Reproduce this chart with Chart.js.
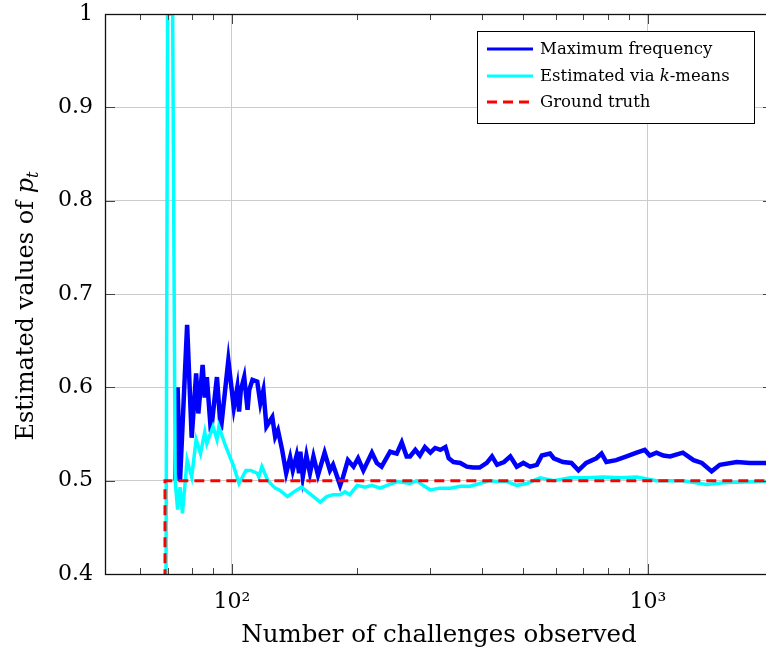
<!DOCTYPE html>
<html>
<head>
<meta charset="utf-8">
<script src="https://cdn.jsdelivr.net/npm/chart.js@4.4.1/dist/chart.umd.min.js"></script>
<style>
  html, body { margin: 0; padding: 0; background: #fff; overflow: hidden; }
  #wrap { width: 790px; height: 656px; }
</style>
</head>
<body>
<div id="wrap"><canvas id="chart"></canvas></div>
<script>
/* ---------- data ---------- */

// number of challenges observed -> estimate via maximum frequency
const maxFreqN = [73, 74, 75, 78, 80, 82, 83,
  85, 86, 87, 89, 92, 94, 98, 101, 103, 104,
  105, 107, 109, 110, 112, 115, 117, 119, 121, 125,
  127, 129, 132, 135, 138, 140, 143, 145, 146, 148,
  151, 154, 157, 161, 167, 172, 175, 182, 185, 190,
  196, 201, 207, 217, 223, 229, 240, 249, 256, 263,
  268, 276, 283, 291, 300, 308, 317, 326, 332, 341,
  354, 367, 380, 394, 410, 422, 434, 451, 467, 484,
  502, 521, 541, 556, 582, 594, 625, 655, 681, 711,
  752, 774, 795, 839, 889, 940, 983, 1011, 1049, 1089,
  1131, 1214, 1288, 1349, 1424, 1490, 1636, 1760, 1916, 2000];
const maxFreqP = [0.5, 0.6, 0.5, 0.667, 0.546, 0.615, 0.572,
  0.624, 0.589, 0.611, 0.552, 0.611, 0.554, 0.629, 0.578, 0.6, 0.574,
  0.597, 0.611, 0.576, 0.597, 0.608, 0.606, 0.583, 0.597, 0.558, 0.568,
  0.547, 0.554, 0.533, 0.508, 0.525, 0.511, 0.527, 0.508, 0.531, 0.504,
  0.527, 0.508, 0.526, 0.506, 0.53, 0.511, 0.517, 0.495, 0.504, 0.522,
  0.515, 0.524, 0.511, 0.53, 0.519, 0.515, 0.531, 0.529, 0.541, 0.526,
  0.526, 0.533, 0.527, 0.536, 0.53, 0.535, 0.533, 0.536, 0.524, 0.52,
  0.519, 0.515, 0.514, 0.514, 0.519, 0.526, 0.517, 0.52, 0.526, 0.515,
  0.519, 0.515, 0.517, 0.527, 0.529, 0.524, 0.52, 0.519, 0.511, 0.519,
  0.524, 0.529, 0.52, 0.522, 0.526, 0.53, 0.533, 0.527, 0.53, 0.527,
  0.526, 0.53, 0.522, 0.519, 0.51, 0.517, 0.52, 0.519, 0.519, 0.518];

// estimate via k-means
const kmeansN = [69, 70, 72, 73, 74, 75, 76, 78, 80, 82,
  84, 86, 87, 90, 92, 93, 96, 101, 104, 108,
  111, 115, 116, 118, 122, 127, 130, 136, 142, 147,
  153, 157, 163, 169, 175, 182, 187, 192, 200, 209,
  217, 227, 236, 250, 268, 278, 288, 300, 316, 335,
  354, 374, 394, 417, 433, 458, 484, 512, 551, 594,
  651, 711, 782, 858, 940, 1049, 1214, 1385, 1546, 1916,
  2000];
const kmeansP = [0, 1, 1, 0.5, 0.469, 0.493, 0.465, 0.522, 0.504, 0.544,
  0.529, 0.552, 0.54, 0.558, 0.544, 0.558, 0.54, 0.515, 0.497, 0.511,
  0.511, 0.508, 0.504, 0.515, 0.5, 0.492, 0.49, 0.483, 0.489, 0.493,
  0.487, 0.483, 0.477, 0.483, 0.485, 0.485, 0.488, 0.485, 0.495, 0.493,
  0.495, 0.492, 0.495, 0.499, 0.497, 0.5, 0.495, 0.49, 0.492, 0.492,
  0.494, 0.494, 0.497, 0.5, 0.499, 0.499, 0.495, 0.497, 0.503, 0.5,
  0.503, 0.503, 0.504, 0.503, 0.504, 0.5, 0.5, 0.496, 0.498, 0.499,
  0.499];

// ground truth
const truthN = [69, 69, 2000];
const truthP = [0, 0.5, 0.5];

// axes
const xMin = 49.5, xMax = 2000;
const xMajorTicks = [100, 1000];
const xMinorTicks = [60, 70, 80, 90, 200, 300, 400, 500, 600, 700, 800, 900];
const xTickLabels = { 100: '10²', 1000: '10³' };
const yMin = 0.4, yMax = 1, yStep = 0.1;

const seriesLabels = ['Maximum frequency', 'Estimated via k-means', 'Ground truth'];
const xTitle = 'Number of challenges observed';
const yTitle = 'Estimated values of ';

/* ---------- helpers ---------- */

const SERIF = "'DejaVu Serif', serif";
const toPoints = (xs, ys) => xs.map((v, i) => ({ x: v, y: ys[i] }));

// draws a label where a lone "k" is set in italics (as in k-means)
function drawMixed(ctx, text, x, y, size) {
  const parts = text.split(/(\bk\b)/);
  parts.forEach(p => {
    if (!p) return;
    ctx.font = (p === 'k' ? 'italic ' : '') + size + 'px ' + SERIF;
    ctx.fillText(p, x, y);
    x += ctx.measureText(p).width;
  });
}

/* ---------- plugins ---------- */

// box frame + inward tick marks like pgfplots
const frameTicks = {
  id: 'frameTicks',
  afterDatasetsDraw(chart) {
    const { ctx, chartArea: a, scales: { x, y } } = chart;
    ctx.save();
    ctx.strokeStyle = '#444';
    ctx.lineWidth = 1;
    ctx.beginPath();
    x.ticks.forEach(t => {
      const px = Math.round(x.getPixelForValue(t.value)) + 0.5;
      const len = t.major ? 10 : 6;
      ctx.moveTo(px, a.bottom); ctx.lineTo(px, a.bottom - len);
      ctx.moveTo(px, a.top);    ctx.lineTo(px, a.top + len);
    });
    y.ticks.forEach(t => {
      const py = Math.round(y.getPixelForValue(t.value)) + 0.5;
      ctx.moveTo(a.left, py);  ctx.lineTo(a.left + 10, py);
      ctx.moveTo(a.right, py); ctx.lineTo(a.right - 10, py);
    });
    ctx.stroke();
    ctx.strokeStyle = '#111';
    ctx.lineWidth = 1.3;
    ctx.strokeRect(Math.round(a.left) + 0.5, Math.round(a.top) + 0.5, Math.round(a.width), Math.round(a.height));
    ctx.restore();
  }
};

// legend box in the upper right
const boxLegend = {
  id: 'boxLegend',
  afterDraw(chart) {
    const { ctx } = chart;
    const bx = 477, by = 31, bw = 277, bh = 92;
    const rows = [49, 76, 102];
    ctx.save();
    ctx.fillStyle = '#fff';
    ctx.fillRect(bx, by, bw, bh);
    ctx.strokeStyle = '#000';
    ctx.lineWidth = 1;
    ctx.strokeRect(bx + 0.5, by + 0.5, bw, bh);
    chart.data.datasets.forEach((ds, i) => {
      const yy = rows[i];
      ctx.strokeStyle = ds.borderColor;
      ctx.lineWidth = 3;
      ctx.setLineDash(ds.borderDash || []);
      ctx.beginPath();
      ctx.moveTo(487, yy);
      ctx.lineTo(533, yy);
      ctx.stroke();
      ctx.setLineDash([]);
      ctx.fillStyle = '#000';
      ctx.textBaseline = 'middle';
      drawMixed(ctx, ds.label, 540, yy + 1, 16.5);
    });
    ctx.restore();
  }
};

// rotated y title with italic p and subscript t
const yAxisTitle = {
  id: 'yAxisTitle',
  afterDraw(chart) {
    const { ctx } = chart;
    ctx.save();
    ctx.translate(27, 306);
    ctx.rotate(-Math.PI / 2);
    ctx.fillStyle = '#000';
    ctx.textBaseline = 'middle';
    ctx.font = '24px ' + SERIF;
    const w1 = ctx.measureText(yTitle).width;
    ctx.font = 'italic 24px ' + SERIF;
    const w2 = ctx.measureText('p').width;
    ctx.font = 'italic 16px ' + SERIF;
    const w3 = ctx.measureText('t').width;
    let x0 = -(w1 + w2 + w3) / 2;
    ctx.font = '24px ' + SERIF;
    ctx.fillText(yTitle, x0, 0);
    x0 += w1;
    ctx.font = 'italic 24px ' + SERIF;
    ctx.fillText('p', x0, 0);
    x0 += w2;
    ctx.font = 'italic 16px ' + SERIF;
    ctx.fillText('t', x0, 7);
    ctx.restore();
  }
};

/* ---------- chart ---------- */

Chart.defaults.font.family = SERIF;
Chart.defaults.color = '#000';

new Chart(document.getElementById('chart'), {
  type: 'line',
  data: {
    datasets: [
      {
        label: seriesLabels[0],
        data: toPoints(maxFreqN, maxFreqP),
        borderColor: '#0000ff',
        borderWidth: 4.5,
        pointRadius: 0,
        tension: 0,
        order: 3,
      },
      {
        label: seriesLabels[1],
        data: toPoints(kmeansN, kmeansP),
        borderColor: '#00ffff',
        borderWidth: 3.5,
        pointRadius: 0,
        tension: 0,
        order: 2,
      },
      {
        label: seriesLabels[2],
        data: toPoints(truthN, truthP),
        borderColor: '#ff0000',
        borderWidth: 3,
        borderDash: [10, 6],
        pointRadius: 0,
        tension: 0,
        order: 1,
      },
    ],
  },
  options: {
    responsive: true,
    maintainAspectRatio: false,
    animation: false,
    layout: { padding: { left: 0, right: 17, top: 14, bottom: 0 } },
    plugins: {
      legend: { display: false },
      tooltip: { enabled: false },
    },
    scales: {
      x: {
        type: 'logarithmic',
        min: xMin,
        max: xMax,
        afterBuildTicks: s => {
          s.ticks = [...xMinorTicks, ...xMajorTicks]
            .sort((a, b) => a - b)
            .map(v => ({ value: v, major: xMajorTicks.includes(v) }));
        },
        afterFit: s => { s.height = 82; s.paddingLeft = 0; s.paddingRight = 0; },
        ticks: {
          autoSkip: false,
          maxRotation: 0,
          padding: 15,
          font: { size: 22 },
          callback: v => xTickLabels[v] || '',
        },
        grid: {
          drawTicks: false,
          color: c => (c.tick && xMajorTicks.includes(c.tick.value)) ? '#cccccc' : 'rgba(0,0,0,0)',
          lineWidth: 1,
        },
        border: { display: false },
        title: {
          display: true,
          text: xTitle,
          font: { size: 24.5 },
          padding: { top: 0, bottom: 6 },
        },
      },
      y: {
        min: yMin,
        max: yMax,
        afterFit: s => { s.width = 105; s.paddingTop = 0; s.paddingBottom = 0; },
        ticks: {
          stepSize: yStep,
          padding: 12,
          font: { size: 22 },
          callback: v => String(Number(v.toFixed(1))),
        },
        grid: { drawTicks: false, color: '#cccccc', lineWidth: 1 },
        border: { display: false },
      },
    },
  },
  plugins: [frameTicks, boxLegend, yAxisTitle],
});
</script>
</body>
</html>
